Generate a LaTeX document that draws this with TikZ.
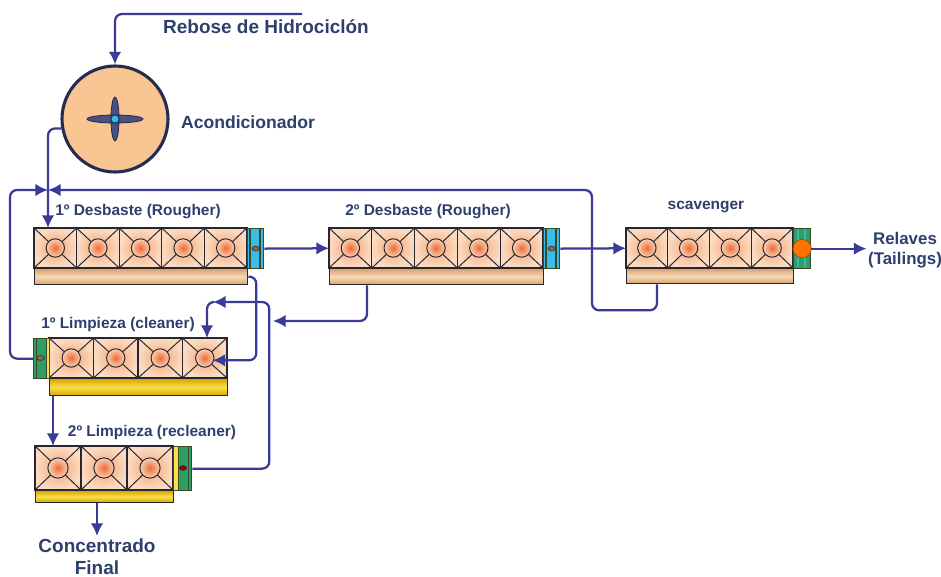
\documentclass[tikz,border=0pt]{standalone}
\usepackage{fontspec}
\setmainfont{Liberation Sans}
\usetikzlibrary{calc,arrows.meta}

% colores del circuito
\definecolor{azulflujo}{HTML}{3A3A98}
\definecolor{rotulo}{HTML}{2E3F6E}
\definecolor{borde}{HTML}{2A2630}
\definecolor{celdaIn}{HTML}{F3A577}
\definecolor{celdaOut}{HTML}{FBDCC2}
\definecolor{ojoIn}{HTML}{EE6A3A}
\definecolor{ojoOut}{HTML}{F9D2B2}
\definecolor{lavTan}{HTML}{F8D9B6}
\definecolor{lavTanOsc}{HTML}{D9A06E}
\definecolor{lavAmar}{HTML}{F9E04A}
\definecolor{lavAmarOsc}{HTML}{D8A400}
\definecolor{cabAzul}{HTML}{38BDEB}
\definecolor{cabVerde}{HTML}{2E9E66}
\definecolor{cabTeal}{HTML}{3CB8A8}
\definecolor{cabOsc}{HTML}{3C4A24}
\definecolor{acondFill}{HTML}{F9C592}
\definecolor{aspa}{HTML}{4A5080}
\definecolor{aro}{HTML}{262C50}

% banco de celdas: nombre, x, y, n celdas, ancho celda, alto
\newcommand{\celdas}[6]{%
  \foreach \i in {1,...,#4}{
    \pgfmathsetmacro{\xa}{#2+(\i-1)*#5}
    \pgfmathsetmacro{\rr}{0.23*#6*0.25*2.845}
    \shade[inner color=celdaIn, outer color=celdaOut] (\xa,#3) rectangle ++(#5,#6);
    \draw[borde, line width=0.7pt] (\xa,#3) -- ++(#5,#6) (\xa+#5,#3) -- ++(-#5,#6);
    \shadedraw[inner color=ojoIn, outer color=ojoOut, draw=borde, line width=0.7pt]
      (\xa+#5/2,#3+#6/2) circle[radius=\rr pt];
    \draw[borde, line width=0.9pt] (\xa,#3) rectangle ++(#5,#6);
  }
  \pgfmathsetmacro{\anch}{#4*#5*0.25}
  \pgfmathsetmacro{\alt}{#6*0.25}
  \node[inner sep=0pt, minimum width=\anch mm, minimum height=\alt mm,
        anchor=north west] (#1) at (#2,#3) {};
}

% canaleta: nombre, x, y, ancho, alto, estilo
\newcommand{\canaleta}[6]{%
  \pgfmathsetmacro{\anch}{#4*0.25}
  \pgfmathsetmacro{\alt}{#5*0.25}
  \node[#6, minimum width=\anch mm, minimum height=\alt mm,
        anchor=north west] (#1) at (#2,#3) {};
}

\begin{document}
\begin{tikzpicture}[x=0.25mm, y=-0.25mm,
  flujo/.style={draw=azulflujo, line width=1.6pt, rounded corners=5pt,
    -{Latex[length=9pt,width=9pt]}},
  rotulo/.style={text=rotulo, inner sep=1pt, font=\bfseries\fontsize{11}{13}\selectfont},
  rotulog/.style={rotulo, align=center, font=\bfseries\fontsize{12.5}{14.5}\selectfont},
  lavtan/.style={draw=borde, line width=0.9pt, inner sep=0pt,
    top color=lavTanOsc, bottom color=lavTanOsc, middle color=lavTan},
  lavamar/.style={draw=borde, line width=0.9pt, inner sep=0pt,
    top color=lavAmarOsc, bottom color=lavAmarOsc, middle color=lavAmar},
  cab/.style={draw=cabOsc, line width=0.9pt, inner sep=0pt, anchor=north west,
    minimum width=4mm, minimum height=10mm}]

\useasboundingbox (0,0) rectangle (941,577);

% acondicionador
\node[circle, draw=aro, line width=2.2pt, fill=acondFill,
      minimum size=26.5mm] (acond) at (115,119) {};
\filldraw[fill=aspa, draw=aro, line width=0.6pt]
  (acond.center) ellipse[x radius=7mm, y radius=1mm]
  (acond.center) ellipse[x radius=1mm, y radius=5.5mm];
\filldraw[fill=cabAzul, draw=aro, line width=0.5pt] (acond.center) circle[radius=1mm];
\node[rotulog] (rot-acond) at (248,122) {Acondicionador};
\node[rotulog, font=\bfseries\fontsize{13.5}{15}\selectfont] (rot-rebose) at (266,27) {Rebose de Hidrociclón};

% 1º desbaste
\celdas{des1}{34}{228}{5}{42.6}{40}
\canaleta{des1-lav}{34}{268}{213}{16}{lavtan}
\node[cab, fill=cabAzul] (des1-cab) at (247,228) {};
\draw[cabOsc, line width=0.8pt] (250,228) -- (250,268) (260,228) -- (260,268);
\filldraw[fill=brown!80!black, draw=borde, line width=0.4pt] (des1-cab.center) ellipse[x radius=0.9mm, y radius=0.6mm];
\node[rotulo] (rot-des1) at (138,212) {1º Desbaste (Rougher)};

% 2º desbaste
\celdas{des2}{329}{228}{5}{42.8}{40}
\canaleta{des2-lav}{329}{268}{214}{16}{lavtan}
\node[cab, fill=cabAzul] (des2-cab) at (543,228) {};
\draw[cabOsc, line width=0.8pt] (546,228) -- (546,268) (556,228) -- (556,268);
\filldraw[fill=brown!80!black, draw=borde, line width=0.4pt] (des2-cab.center) ellipse[x radius=0.9mm, y radius=0.6mm];
\node[rotulo] (rot-des2) at (428,212) {2º Desbaste (Rougher)};

% scavenger
\celdas{scav}{626}{228}{4}{41.75}{40}
\canaleta{scav-lav}{626}{268}{167}{15}{lavtan}
\node[cab, fill=cabVerde, minimum width=4.25mm] (scav-cab) at (793,228) {};
\draw[cabTeal, line width=1.6pt] (798,229) -- (798,267) (805,229) -- (805,267);
\filldraw[fill=orange!90!red, draw=orange!60!black, line width=0.5pt] (scav-cab.center) circle[radius=2.3mm];
\node[rotulo] (rot-scav) at (706,207) {scavenger};

\node[rotulog, font=\bfseries\fontsize{12}{14.2}\selectfont] (relaves) at (905,250) {Relaves\\(Tailings)};

% 1º limpieza
\celdas{lim1}{49}{338}{4}{44.5}{40}
\canaleta{lim1-lav}{49}{378}{178}{17}{lavamar}
\node[cab, fill=cabVerde] (lim1-cab) at (33,338) {};
\fill[lavAmar] (46,338.5) rectangle (49,377.5);
\draw[cabOsc, line width=0.6pt] (36,338) -- (36,378) (46,338) -- (46,378);
\filldraw[fill=brown!80!black, draw=borde, line width=0.4pt] (40.5,358) ellipse[x radius=1mm, y radius=0.6mm];
\node[rotulo] (rot-lim1) at (118,324) {1º Limpieza (cleaner)};

% 2º limpieza
\celdas{lim2}{35}{446}{3}{46}{44}
\canaleta{lim2-lav}{35}{490}{138}{12}{lavamar}
\node[cab, fill=cabVerde, minimum width=4.5mm, minimum height=11mm] (lim2-cab) at (173,446) {};
\fill[lavAmar] (173.5,446.5) rectangle (178,489.5);
\draw[cabOsc, line width=0.6pt] (178,446) -- (178,490) (188,446) -- (188,490);
\filldraw[fill=red!60!black, draw=borde, line width=0.4pt] (183,468) ellipse[x radius=0.9mm, y radius=0.6mm];
\node[rotulo] (rot-lim2) at (152,432) {2º Limpieza (recleaner)};

\node[rotulog, font=\bfseries\fontsize{13.5}{15.6}\selectfont, inner sep=2pt] (concentrado) at (97,557) {Concentrado\\Final};

% flujos
\coordinate (entrada) at (302,14);
\coordinate (nudo) at (48,190);
\coordinate (retorno) at (273,321);
\coordinate (esquina) at (213,302);

\draw[flujo] (entrada) -| (acond.north);
\draw[flujo] (acond.190) -| ($(des1.north west)+(14,0)$);
\draw[flujo] (lim1-cab.west) -- ++(-23,0) |- (nudo);
\draw[flujo] ($(scav-lav.south west)+(31,0)$) |- ++(-65,26) |- (nudo);

\draw[flujo] (des1-cab.east) -- (des2.west);
\draw[flujo] (des2-cab.east) -- (scav.west);
\draw[flujo] (scav-cab.east) -- (scav-cab.east -| relaves.west);

\draw[flujo] (des1-lav.east) -- ++(8,0) |- ($(lim1.east)+(-15,2)$);
\draw[flujo] ($(des2-lav.south west)+(38,0)$) |- (retorno);
\draw[flujo] (lim2-cab.east) -- ++(77,0) |- (esquina);
\draw[flujo] (esquina) -| ($(lim1.north west)+(158,0)$);
\draw[flujo] ($(lim1-lav.south west)+(4,0)$) -- ($(lim2.north west)+(18,0)$);
\draw[flujo] ($(lim2-lav.south west)+(62,0)$) -- (concentrado.north);

\end{tikzpicture}
\end{document}
